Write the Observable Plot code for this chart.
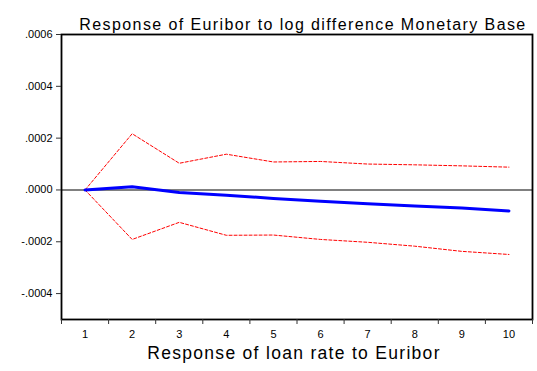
<!DOCTYPE html>
<html>
<head>
<meta charset="utf-8">
<script src="https://cdn.jsdelivr.net/npm/d3@7"></script>
<script src="https://cdn.jsdelivr.net/npm/@observablehq/plot@0.6"></script>
<style>
  html, body { margin: 0; padding: 0; background: #fff; }
  #chart svg { display: block; }
</style>
</head>
<body>
<div id="chart"></div>
<script>
// Impulse response periods
const periods = [1, 2, 3, 4, 5, 6, 7, 8, 9, 10];
// Point response and ±2 S.E. bands
const response = [0, 0.000012, -0.00001, -0.00002, -0.000033, -0.000044, -0.000053, -0.000062, -0.00007, -0.000081];
const upper    = [0, 0.000217, 0.000103, 0.000138, 0.000108, 0.00011, 0.0001, 0.000097, 0.000093, 0.000088];
const lower    = [0, -0.000191, -0.000125, -0.000175, -0.000174, -0.000191, -0.000202, -0.000217, -0.000237, -0.000249];
const yTicks = [-0.0004, -0.0002, 0, 0.0002, 0.0004, 0.0006];
const titleText = "Response of Euribor to log difference Monetary Base";
const xLabelText = "Response of loan rate to Euribor";

const rows = periods.map((p, i) => ({period: p, response: response[i], upper: upper[i], lower: lower[i]}));
const boundaries = d3.range(0.5, 11, 1);
const fmt = d => (d < 0 ? "-" : "") + Math.abs(d).toFixed(4).replace(/^0/, "");

const chart = Plot.plot({
  width: 537,
  height: 371,
  marginLeft: 61,
  marginRight: 5,
  marginTop: 34,
  marginBottom: 52,
  style: {fontFamily: "'Liberation Sans', Arial, sans-serif", fontSize: "11px", color: "#000", background: "#fff"},
  x: {domain: [0.5, 10.5]},
  y: {domain: [-0.0005, 0.0006]},
  marks: [
    Plot.ruleY([0], {stroke: "#808080", strokeWidth: 2}),
    Plot.line(rows, {x: "period", y: "upper", stroke: "#ff0000", strokeWidth: 1, strokeDasharray: "3,2"}),
    Plot.line(rows, {x: "period", y: "lower", stroke: "#ff0000", strokeWidth: 1, strokeDasharray: "3,2"}),
    Plot.line(rows, {x: "period", y: "response", stroke: "#0000ff", strokeWidth: 3}),
    Plot.frame({stroke: "#000", strokeWidth: 1.8, strokeOpacity: 1}),
    Plot.axisY({ticks: yTicks, tickFormat: fmt, tickSize: 5, tickPadding: 4, label: null, stroke: "#333", strokeOpacity: 1}),
    Plot.axisX({ticks: boundaries, tickFormat: () => "", tickSize: 5, label: null, stroke: "#333", strokeOpacity: 1}),
    Plot.axisX({ticks: periods, tickFormat: d => String(d), tickSize: 0, tickPadding: 11, label: null}),
    Plot.text([titleText], {frameAnchor: "top", dy: -16, dx: 6, fontSize: 16, fill: "#000"}),
    Plot.text([xLabelText], {frameAnchor: "bottom", dy: 39, dx: -3, fontSize: 17.5, fill: "#000"})
  ]
});

// Wider tracking on the title and axis caption
d3.select(chart).selectAll("text").each(function() {
  const t = this.textContent;
  if (t === titleText) this.setAttribute("letter-spacing", "1.4");
  if (t === xLabelText) this.setAttribute("letter-spacing", "1.3");
});
document.getElementById("chart").appendChild(chart);
</script>
</body>
</html>
